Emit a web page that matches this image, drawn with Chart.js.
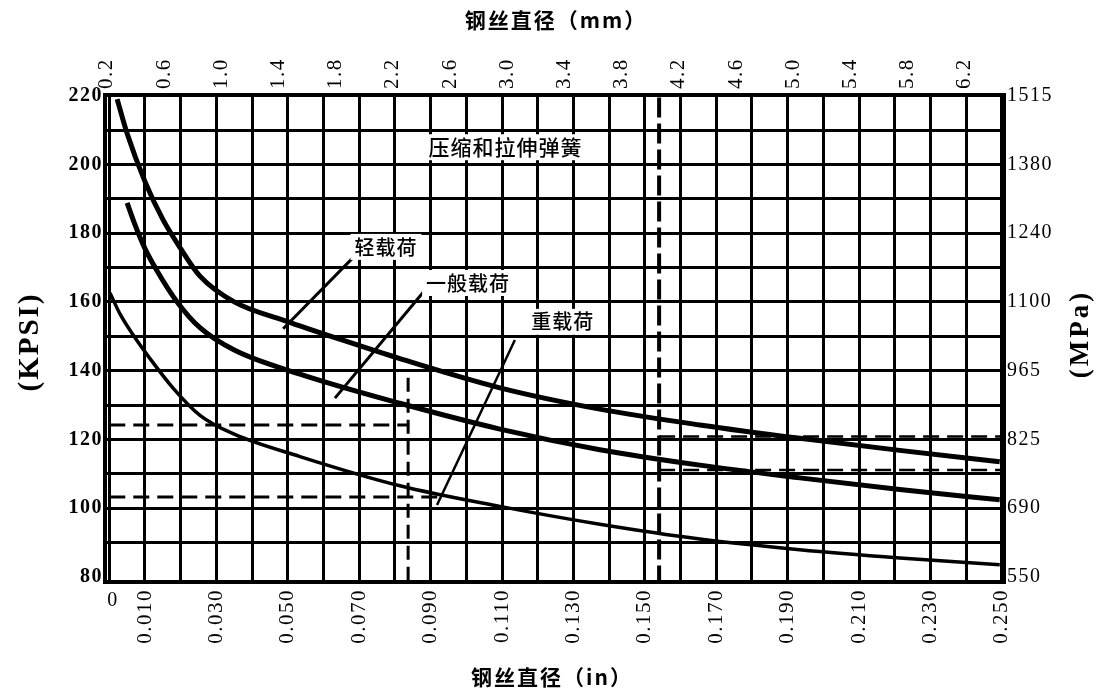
<!DOCTYPE html>
<html><head><meta charset="utf-8">
<script src="https://cdn.jsdelivr.net/npm/chart.js@4.4.1/dist/chart.umd.min.js"></script>
<style>html,body{margin:0;padding:0;background:#fff}#wrap{width:1101px;height:692px;position:relative}canvas{display:block}</style>
</head><body><div id="wrap"><canvas id="c" width="1101" height="692" style="width:1101px;height:692px"></canvas></div>
<script>
// ---------- data ----------
const IN_GRID = [0,0.01,0.02,0.03,0.04,0.05,0.06,0.07,0.08,0.09,0.10,0.11,0.12,0.13,0.14,0.15,0.16,0.17,0.18,0.19,0.20,0.21,0.22,0.23,0.24,0.25];
const IN_LABELS = ['0.010','0.030','0.050','0.070','0.090','0.110','0.130','0.150','0.170','0.190','0.210','0.230','0.250'];
const MM_TICKS = [0.2,0.6,1.0,1.4,1.8,2.2,2.6,3.0,3.4,3.8,4.2,4.6,5.0,5.4,5.8,6.2];
const KSI_GRID = [80,90,100,110,120,130,140,150,160,170,180,190,200,210,220];
const KSI_LABELED = [80,100,120,140,160,180,200,220];
const MPA_LABELS = ['550','690','825','965','1100','1240','1380','1515'];

// light load (轻载荷)
const LIGHT_X = [0.0022,0.005,0.010,0.015,0.020,0.0254,0.035,0.0493,0.065,0.0814,0.1094,0.1374,0.1654,0.1934,0.2214,0.2494];
const LIGHT_Y = [219.0,209.0,195.0,184.0,175.5,167.5,160.0,154.5,149.0,143.5,135.0,128.8,124.2,120.3,116.8,113.5];
// general load (一般载荷)
const MED_X = [0.005,0.007,0.010,0.0134,0.019,0.0254,0.035,0.0534,0.0814,0.1094,0.1374,0.1654,0.1934,0.2214,0.2494];
const MED_Y = [188.8,183.0,175.5,169.0,160.0,152.5,146.0,139.0,130.5,123.0,117.0,112.5,108.8,105.4,102.4];
// heavy load (重载荷)
const HEAVY_X = [0.0002,0.003,0.0066,0.0114,0.0178,0.0254,0.035,0.0534,0.0814,0.1094,0.1374,0.1654,0.1934,0.2214,0.2494];
const HEAVY_Y = [162.6,156.5,150.5,143.5,135.0,127.0,121.5,115.0,106.5,100.5,95.3,91.0,87.9,85.5,83.5];

// construction (dashed) lines
const DASH_V1_X = [0.0837,0.0837], DASH_V1_Y = [137.9,78.5];
const DASH_V2_X = [0.154,0.154],   DASH_V2_Y = [219.5,78.5];
const DASH_H1_X = [0.000,0.084],   DASH_H1_Y = [124.2,124.2];
const DASH_H2_X = [0.000,0.093],   DASH_H2_Y = [103.2,103.2];
const DASH_H3_X = [0.154,0.250],   DASH_H3_Y = [120.8,120.8];
const DASH_H4_X = [0.154,0.250],   DASH_H4_Y = [111.1,111.1];

// leader lines from labels to curves
const LEAD_LIGHT_X = [0.0487,0.0680], LEAD_LIGHT_Y = [152.2,172.6];
const LEAD_MED_X   = [0.0632,0.0884], LEAD_MED_Y   = [132.0,163.4];
const LEAD_HEAVY_X = [0.0918,0.1136], LEAD_HEAVY_Y = [100.9,148.9];

// in-plot texts
const NOTE_TEXTS = ['压缩和拉伸弹簧','轻载荷','一般载荷','重载荷'];
const NOTE_X = [0.1110,0.0775,0.1005,0.1270];
const NOTE_Y = [205.0,176.0,165.5,154.2];

// ---------- chart ----------
const pts = (xs, ys) => xs.map((v,i)=>({x:v,y:ys[i]}));
const curve = (xs, ys, w) => ({data:pts(xs,ys), borderColor:'#000', borderWidth:w, showLine:true, pointRadius:0, cubicInterpolationMode:'monotone', fill:false});
const seg = (xs, ys, w, dash) => ({data:pts(xs,ys), borderColor:'#000', borderWidth:w, showLine:true, pointRadius:0, borderDash:dash||[], fill:false});

const serif = '"Liberation Serif","DejaVu Serif",serif';
const cjk = '"Noto Sans CJK SC","Noto Sans CJK JP",sans-serif';

const textPlugin = {
  id:'texts',
  beforeDraw(chart){ chart.ctx.letterSpacing = '1.5px'; },
  beforeDatasetsDraw(chart){ chart.ctx.letterSpacing = '0px'; },
  afterDatasetsDraw(chart){
    const {ctx, scales:{x,y}} = chart;
    ctx.save();
    ctx.letterSpacing = '1px';
    NOTE_TEXTS.forEach((t,i)=>{
      const px = x.getPixelForValue(NOTE_X[i]), py = y.getPixelForValue(NOTE_Y[i]);
      ctx.font = (i===0? '500 21px ':'500 20px ') + cjk;
      const w = ctx.measureText(t).width;
      ctx.fillStyle='#fff';
      ctx.fillRect(px-w/2-4, py-13, w+8, 26);
      ctx.fillStyle='#000'; ctx.textAlign='center'; ctx.textBaseline='middle';
      ctx.fillText(t, px, py);
    });
    ctx.restore();
  },
  afterDraw(chart){
    const {ctx, scales:{x}} = chart;
    ctx.save();
    ctx.fillStyle='#000';
    ctx.textAlign='center'; ctx.textBaseline='middle';
    ctx.letterSpacing = '0px';
    ctx.font = '20px ' + serif;
    ctx.fillText('0', x.getPixelForValue(0)+3, 601);
    ctx.font = 'bold 21px ' + cjk;
    ctx.letterSpacing = '2px';
    ctx.fillText('钢丝直径（mm）', 556, 20);
    ctx.fillText('钢丝直径（in）', 552, 677);
    ctx.font = 'bold 29px ' + serif;
    ctx.letterSpacing = '2px';
    ctx.save(); ctx.translate(31, 342); ctx.rotate(-Math.PI/2); ctx.fillText('(KPSI)', 0, 0); ctx.restore();
    ctx.font = 'bold 27px ' + serif;
    ctx.letterSpacing = '3px';
    ctx.save(); ctx.translate(1081, 334); ctx.rotate(-Math.PI/2); ctx.fillText('(MPa)', 0, 0); ctx.restore();
    ctx.restore();
  }
};

new Chart(document.getElementById('c'), {
  type:'scatter',
  data:{datasets:[
    curve(LIGHT_X, LIGHT_Y, 5),
    curve(MED_X, MED_Y, 5),
    curve(HEAVY_X, HEAVY_Y, 3.5),
    seg(DASH_V1_X, DASH_V1_Y, 3, [14,7]),
    seg(DASH_V2_X, DASH_V2_Y, 4, [20,6]),
    seg(DASH_H1_X, DASH_H1_Y, 3, [16,8]),
    seg(DASH_H2_X, DASH_H2_Y, 3, [16,8]),
    seg(DASH_H3_X, DASH_H3_Y, 2.5, [16,8]),
    seg(DASH_H4_X, DASH_H4_Y, 2.5, [16,8]),
    seg(LEAD_LIGHT_X, LEAD_LIGHT_Y, 3),
    seg(LEAD_MED_X, LEAD_MED_Y, 3),
    seg(LEAD_HEAVY_X, LEAD_HEAVY_Y, 2.5)
  ]},
  options:{
    responsive:false, animation:false, devicePixelRatio:1,
    layout:{padding:0},
    plugins:{legend:{display:false}, tooltip:{enabled:false}},
    scales:{
      x:{type:'linear', position:'bottom', min:-0.0012, max:0.2506,
        afterBuildTicks:s=>{s.ticks = IN_GRID.map(v=>({value:v}));},
        afterFit:s=>{s.height = 110;},
        ticks:{autoSkip:false, minRotation:90, maxRotation:90, padding:7, color:'#000',
          font:{family:serif, size:21},
          callback:v=>{const l = IN_LABELS.find(t=>Math.abs(parseFloat(t)-v)<1e-9); return l||'';}},
        grid:{color:'#000', lineWidth:3, drawTicks:false},
        border:{display:true, color:'#000', width:4}},
      x2:{type:'linear', position:'top', min:0.0112, max:6.298,
        afterBuildTicks:s=>{s.ticks = MM_TICKS.map(v=>({value:v}));},
        afterFit:s=>{s.height = 95;},
        ticks:{autoSkip:false, minRotation:90, maxRotation:90, padding:6, color:'#000',
          font:{family:serif, size:21},
          callback:v=>v.toFixed(1)},
        grid:{display:false, drawTicks:false},
        border:{display:true, color:'#000', width:4}},
      y:{type:'linear', position:'left', min:78.5, max:220.2,
        afterBuildTicks:s=>{s.ticks = KSI_GRID.map(v=>({value:v}));},
        afterFit:s=>{s.width = 105;},
        ticks:{autoSkip:false, padding:2, color:'#000', font:{family:serif, size:20, weight:'bold'},
          callback:v=>KSI_LABELED.includes(v)? String(v):''},
        grid:{color:c=>c.tick && c.tick.value===80 ? 'rgba(0,0,0,0)' : '#000', lineWidth:3, drawTicks:false},
        border:{display:true, color:'#000', width:4}},
      y2:{type:'linear', position:'right', min:78.5, max:220.2,
        afterBuildTicks:s=>{s.ticks = KSI_LABELED.map(v=>({value:v}));},
        afterFit:s=>{s.width = 97;},
        ticks:{autoSkip:false, padding:3, color:'#000', font:{family:serif, size:20},
          callback:(v,i)=>MPA_LABELS[KSI_LABELED.indexOf(v)]},
        grid:{display:false, drawTicks:false},
        border:{display:true, color:'#000', width:4}}
    }
  },
  plugins:[textPlugin]
});
</script></body></html>
